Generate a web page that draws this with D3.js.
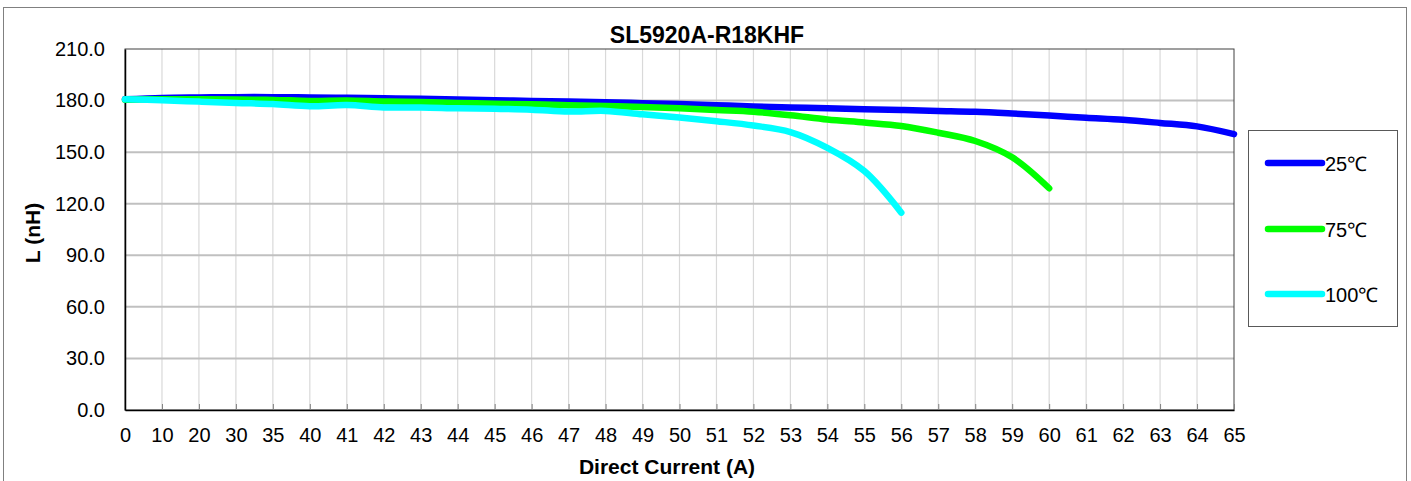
<!DOCTYPE html>
<html><head><meta charset="utf-8">
<script src="https://cdn.jsdelivr.net/npm/d3@7"></script>
<style>body{margin:0;background:#fff}svg{display:block}text{font-family:Arial,"Liberation Sans",sans-serif}</style>
</head><body><svg id="c" width="1411" height="481"></svg>
<script>
const categories = ["0","10","20","30","35","40","41","42","43","44","45","46","47","48","49","50","51","52","53","54","55","56","57","58","59","60","61","62","63","64","65"];
const yTicks = [0,30,60,90,120,150,180,210];
const series25 = [180.7,181.5,181.8,182,182,181.8,181.6,181.3,181,180.6,180.2,179.8,179.4,179,178.5,178,177.3,176.6,176,175.5,175,174.5,174,173.5,172.5,171.3,170,168.8,167,165,160.5];
const series75 = [180.5,180.8,180.8,180.6,180.4,179.8,180,179.5,179.2,178.6,178.2,177.8,177.3,176.8,176.3,175.5,174.5,173.5,171.5,169,167.2,165.2,161.3,156.5,147,129];
const series100 = [180.7,180.2,179.4,178.6,178,176.7,177.4,176,176,175.5,175.2,174.7,173.6,174,172,170.2,168,165.5,161.7,152.5,139,114.8];
const seriesNames = ["25℃","75℃","100℃"];
const seriesColors = ["#0000FF","#00FF00","#00FFFF"];
const allSeries = [series25, series75, series100];

const svg = d3.select("#c");
const L = 125, R = 1234, T = 49, B = 410;
const x = d3.scalePoint().domain(categories).range([L, R]);
const y = d3.scaleLinear().domain([0, 210]).range([B, T]);

// outer frame
svg.append("rect").attr("x",3.5).attr("y",7.5).attr("width",1403).attr("height",490)
  .attr("fill","none").attr("stroke","#808080").attr("stroke-width",1);

// vertical gridlines
svg.append("g").selectAll("line").data(categories.slice(1, -1)).join("line")
  .attr("x1", d => x(d)).attr("x2", d => x(d)).attr("y1", T).attr("y2", B)
  .attr("stroke", "#d9d9d9").attr("stroke-width", 1.2);
// horizontal gridlines
svg.append("g").selectAll("line").data(yTicks.slice(1, -1)).join("line")
  .attr("x1", L).attr("x2", R).attr("y1", d => y(d)).attr("y2", d => y(d))
  .attr("stroke", "#c0c0c0").attr("stroke-width", 2);

// plot border
svg.append("rect").attr("x", L).attr("y", T).attr("width", R - L).attr("height", B - T)
  .attr("fill", "none").attr("stroke", "#404040").attr("stroke-width", 1);

// axes
const xAxis = d3.axisBottom(x).tickSizeInner(-6).tickSizeOuter(0).tickPadding(18);
const gx = svg.append("g").attr("transform", `translate(0,${B})`).call(xAxis);
gx.select(".domain").attr("stroke", "#000").attr("stroke-width", 1.5);
gx.selectAll(".tick line").attr("stroke", "#808080");
gx.selectAll(".tick text").attr("font-size", 20).attr("fill", "#000")
  .attr("font-family", "Arial, 'Liberation Sans', sans-serif").attr("dy", "0.71em");

const yAxis = d3.axisLeft(y).tickValues(yTicks).tickFormat(d3.format(".1f")).tickSize(0).tickPadding(20);
const gy = svg.append("g").attr("transform", `translate(${L},0)`).call(yAxis);
gy.select(".domain").attr("stroke", "#000").attr("stroke-width", 1.5);
gy.selectAll(".tick text").attr("font-size", 20).attr("fill", "#000")
  .attr("font-family", "Arial, 'Liberation Sans', sans-serif");

// lines
const line = d3.line().x((d, i) => x(categories[i])).y(d => y(d)).curve(d3.curveCatmullRom.alpha(0.5));
allSeries.forEach((s, k) => {
  svg.append("path").datum(s).attr("d", line).attr("fill", "none")
    .attr("stroke", seriesColors[k]).attr("stroke-width", 6.5)
    .attr("stroke-linecap", "round").attr("stroke-linejoin", "round");
});

// titles
svg.append("text").attr("x", 707).attr("y", 43).attr("text-anchor", "middle")
  .attr("font-size", 23).attr("font-weight", "bold").text("SL5920A-R18KHF");
svg.append("text").attr("x", 667).attr("y", 474).attr("text-anchor", "middle")
  .attr("font-size", 21).attr("font-weight", "bold").text("Direct Current (A)");
svg.append("text").attr("transform", "translate(40,233) rotate(-90)").attr("text-anchor", "middle")
  .attr("font-size", 21).attr("font-weight", "bold").text("L (nH)");

// legend
const lg = svg.append("g");
lg.append("rect").attr("x", 1248.5).attr("y", 130.5).attr("width", 149).attr("height", 196)
  .attr("fill", "#fff").attr("stroke", "#595959").attr("stroke-width", 1);
const ly = [163, 229, 294];
seriesNames.forEach((n, k) => {
  lg.append("line").attr("x1", 1268).attr("x2", 1322).attr("y1", ly[k]).attr("y2", ly[k])
    .attr("stroke", seriesColors[k]).attr("stroke-width", 6.5).attr("stroke-linecap", "round");
  lg.append("text").attr("x", 1325).attr("y", ly[k] + 7.5).attr("font-size", 20).text(n);
});
</script></body></html>
